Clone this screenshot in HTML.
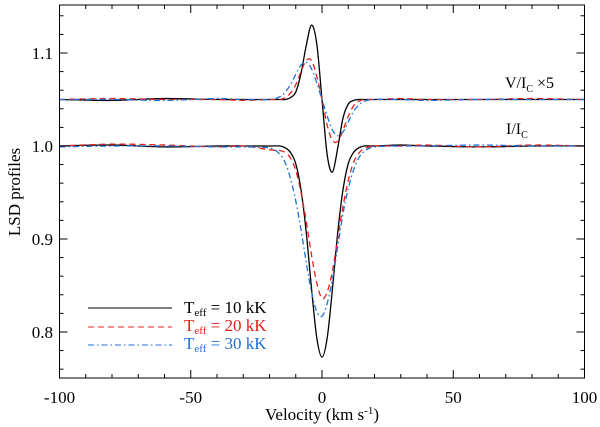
<!DOCTYPE html>
<html><head><meta charset="utf-8"><style>
html,body{margin:0;background:#fff;width:600px;height:427px;overflow:hidden;position:relative}
svg{position:absolute;left:0;top:0;font-family:"Liberation Serif",serif}
</style></head><body>
<svg id="chart" width="600" height="427" viewBox="0 0 600 427">
<g id="plot"></g>
<g id="axes"></g>
</svg>
<script>
// ---- data ----
const vBlack = [-100,-80,-60,-40,-30,-20,-16,-14,-12,-10,-8,-6,-4,-2,0,2,4,6,8,10,12,14,16,20,30,40,60,80,100];
const iBlack = [1.000,1.001,0.999,1.000,1.000,1.000,1.000,0.998,0.993,0.981,0.953,0.907,0.847,0.794,0.773,0.794,0.847,0.907,0.953,0.981,0.993,0.998,1.000,1.000,1.001,1.000,0.999,1.000,1.000];
const vRed = [-100,-80,-60,-40,-30,-20,-16,-14,-12,-10,-8,-6,-4,-2,0,2,4,6,8,10,12,14,16,20,30,40,60,80,100];
const iRed = [1.000,1.002,1.001,0.999,1.000,0.996,0.995,0.993,0.987,0.974,0.950,0.919,0.883,0.853,0.836,0.843,0.866,0.901,0.935,0.963,0.982,0.992,0.997,1.000,1.000,1.001,0.999,1.001,1.000];
const vBlue = [-100,-80,-60,-40,-30,-20,-16,-14,-12,-10,-8,-6,-4,-2,0,2,4,6,8,10,12,14,16,20,30,40,60,80,100];
const iBlue = [0.999,1.000,1.000,0.999,0.999,0.998,0.991,0.982,0.965,0.941,0.910,0.875,0.843,0.822,0.817,0.831,0.857,0.892,0.927,0.954,0.974,0.987,0.994,0.999,1.000,1.000,1.001,1.000,1.000];
const vV = [-100,-80,-60,-40,-30,-20,-16,-14,-12,-10,-8,-6,-4,-2,0,2,4,6,8,10,12,14,16,20,30,40,60,80,100];
const vpBlack = [1.050,1.049,1.051,1.050,1.050,1.050,1.050,1.050,1.052,1.058,1.078,1.108,1.130,1.110,1.050,0.990,0.972,0.998,1.030,1.045,1.049,1.050,1.050,1.050,1.050,1.050,1.050,1.050,1.050];
const vpRed = [1.050,1.051,1.050,1.050,1.049,1.050,1.050,1.052,1.057,1.066,1.080,1.092,1.092,1.075,1.050,1.022,1.006,1.005,1.017,1.032,1.043,1.048,1.050,1.050,1.051,1.050,1.050,1.051,1.050];
const vpBlue = [1.050,1.050,1.049,1.051,1.050,1.050,1.053,1.058,1.066,1.077,1.087,1.090,1.083,1.068,1.050,1.032,1.017,1.011,1.015,1.026,1.037,1.044,1.048,1.050,1.050,1.049,1.050,1.050,1.050];
const xTicks = [-100,-50,0,50,100];
const xTickLabels = ["-100","-50","0","50","100"];
const yTicks = [0.8,0.9,1.0,1.1];
const yTickLabels = ["0.8","0.9","1.0","1.1"];

// ---- axes ----
const L=59.5,R=584.5,T=5,B=378;
const xMin=-100,xMax=100,yMin=0.7505,yMax=1.1516;
const X=v=>L+(v-xMin)/(xMax-xMin)*(R-L);
const Y=v=>B-(v-yMin)/(yMax-yMin)*(B-T);
const NS="http://www.w3.org/2000/svg";
function mk(tag,attrs,parent){const e=document.createElementNS(NS,tag);for(const k in attrs)e.setAttribute(k,attrs[k]);parent.appendChild(e);return e;}
const plot=document.getElementById('plot'),axes=document.getElementById('axes');

function pathFor(xs,ys){
  const p=xs.map((x,i)=>[X(x),Y(ys[i])]);
  let d=`M${p[0][0]},${p[0][1]}`;
  for(let i=0;i<p.length-1;i++){
    const p0=p[Math.max(0,i-1)],p1=p[i],p2=p[i+1],p3=p[Math.min(p.length-1,i+2)];
    const c1=[p1[0]+(p2[0]-p0[0])/6,p1[1]+(p2[1]-p0[1])/6];
    const c2=[p2[0]-(p3[0]-p1[0])/6,p2[1]-(p3[1]-p1[1])/6];
    d+=` C${c1[0]},${c1[1]} ${c2[0]},${c2[1]} ${p2[0]},${p2[1]}`;
  }
  return d;
}
const styles={black:{stroke:'#000',dash:''},red:{stroke:'#e3201b',dash:'6,4'},blue:{stroke:'#1e6fd9',dash:'6,3,1.5,3'}};
const series=[
 ['i-profile-10kk',vBlack,iBlack,'black'],['i-profile-20kk',vRed,iRed,'red'],['i-profile-30kk',vBlue,iBlue,'blue'],
 ['v-profile-10kk',vV,vpBlack,'black'],['v-profile-20kk',vV,vpRed,'red'],['v-profile-30kk',vV,vpBlue,'blue']];
series.forEach(s=>{
  const st=styles[s[3]];
  const e=mk('path',{d:pathFor(s[1],s[2]),fill:'none',stroke:st.stroke,'stroke-width':1.3,'stroke-dasharray':st.dash},plot);
  
  
});

const frame=mk('rect',{x:L,y:T,width:R-L,height:B-T,fill:'none',stroke:'#000','stroke-width':1},axes);


for(let v=-100;v<=100;v+=10){
  const major=v%50===0,len=major?8:4;
  mk('line',{x1:X(v),x2:X(v),y1:B,y2:B-len,stroke:'#000'},axes);
  mk('line',{x1:X(v),x2:X(v),y1:T,y2:T+len,stroke:'#000'},axes);
}
for(let k=76;k<=114;k+=2){
  const v=k/100,major=k%10===0,len=major?8:4;
  mk('line',{x1:L,x2:L+len,y1:Y(v),y2:Y(v),stroke:'#000'},axes);
  mk('line',{x1:R,x2:R-len,y1:Y(v),y2:Y(v),stroke:'#000'},axes);
}
xTicks.forEach((v,i)=>{
  const t=mk('text',{x:X(v),y:403,'text-anchor':'middle','font-size':17},axes);
  t.textContent=xTickLabels[i];
  
  
});
yTicks.forEach((v,i)=>{
  const t=mk('text',{x:53,y:Y(v)+6,'text-anchor':'end','font-size':17},axes);
  t.textContent=yTickLabels[i];
  
  
});
</script>
<svg width="600" height="427">
<text x="322" y="420" text-anchor="middle" font-size="17" font-family="Liberation Serif,serif">Velocity (km s<tspan dy="-6" font-size="11">-1</tspan><tspan dy="6">)</tspan></text>
<text transform="translate(20,192) rotate(-90)" text-anchor="middle" font-size="17" font-family="Liberation Serif,serif">LSD profiles</text>
<text x="505" y="88" font-size="16" font-family="Liberation Serif,serif">V/I<tspan dy="4" font-size="10">C</tspan><tspan dy="-4"> ×5</tspan></text>
<text x="506" y="134" font-size="16" font-family="Liberation Serif,serif">I/I<tspan dy="4" font-size="10">C</tspan></text>
<g font-family="Liberation Serif,serif" font-size="17">
<line x1="88" x2="172" y1="308" y2="308" stroke="#000" stroke-width="1.1"/>
<line x1="88" x2="172" y1="327" y2="327" stroke="#e3201b" stroke-width="1.1" stroke-dasharray="6,4"/>
<line x1="88" x2="172" y1="345" y2="345" stroke="#1e6fd9" stroke-width="1.1" stroke-dasharray="6,3,1.5,3"/>
<text x="184" y="313" fill="#000">T<tspan dy="3" font-size="11">eff</tspan><tspan dy="-3"> = 10 kK</tspan></text>
<text x="184" y="331" fill="#e3201b">T<tspan dy="3" font-size="11">eff</tspan><tspan dy="-3"> = 20 kK</tspan></text>
<text x="184" y="349" fill="#1e6fd9">T<tspan dy="3" font-size="11">eff</tspan><tspan dy="-3"> = 30 kK</tspan></text>
</g>
</svg>
</body></html>
